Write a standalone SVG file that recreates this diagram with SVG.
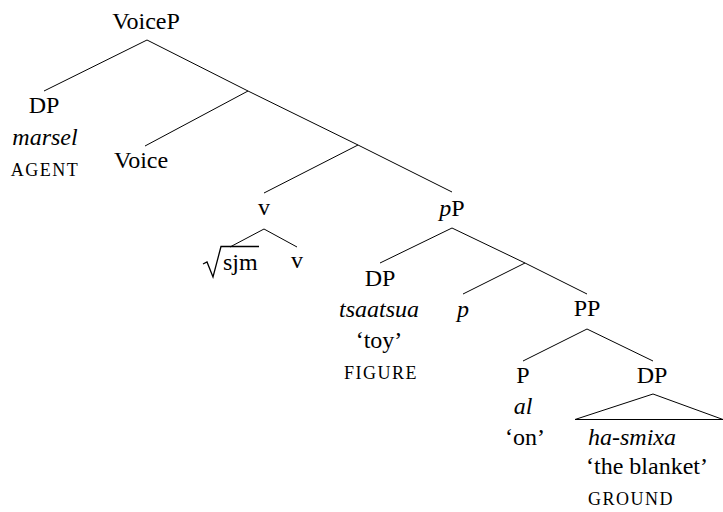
<svg xmlns="http://www.w3.org/2000/svg" width="723" height="512" viewBox="0 0 723 512" font-family="Liberation Serif, serif">
<rect width="723" height="512" fill="#fff"/>
<g id="connectors" stroke="#000" stroke-width="1" fill="none">
<line x1="147" y1="40" x2="44" y2="91"/>
<line x1="147" y1="40" x2="248" y2="91"/>
<line x1="248" y1="91" x2="145" y2="146"/>
<line x1="248" y1="91" x2="358" y2="145"/>
<line x1="358" y1="145" x2="264" y2="193"/>
<line x1="358" y1="145" x2="452" y2="192"/>
<line x1="264" y1="229" x2="230" y2="247"/>
<line x1="264" y1="229" x2="297" y2="247"/>
<line x1="452" y1="228" x2="380" y2="263"/>
<line x1="452" y1="228" x2="525" y2="263"/>
<line x1="525" y1="263" x2="463" y2="294"/>
<line x1="525" y1="263" x2="587" y2="294"/>
<line x1="587" y1="329" x2="523" y2="361"/>
<line x1="587" y1="329" x2="653" y2="361"/>
<polygon points="653,394 575,419.5 723,419.5"/>
</g>
<g id="VoiceP"><text font-family="Liberation Serif, serif" font-size="24" text-anchor="middle" x="146" y="29">VoiceP</text></g>
<g id="DP-agent">
<text font-family="Liberation Serif, serif" font-size="24" text-anchor="middle" x="44" y="113">DP</text>
<text font-family="Liberation Serif, serif" font-size="24" font-style="italic" text-anchor="middle" x="45" y="145">marsel</text>
<text font-family="Liberation Serif, serif" font-size="18" letter-spacing="1.5" text-anchor="middle" x="45" y="176">AGENT</text>
</g>
<g id="Voice"><text font-family="Liberation Serif, serif" font-size="24" text-anchor="middle" x="141" y="168">Voice</text></g>
<g id="v-bar"><text font-family="Liberation Serif, serif" font-size="24" text-anchor="middle" x="264" y="215">v</text></g>
<g id="root-sjm">
<polyline points="203,264 207,262 213,277 221,246.5 259,246.5" stroke="#000" stroke-width="1.3" fill="none"/>
<text font-family="Liberation Serif, serif" font-size="24" x="223" y="270">sjm</text>
</g>
<g id="v-head"><text font-family="Liberation Serif, serif" font-size="24" text-anchor="middle" x="297" y="268">v</text></g>
<g id="pP"><text font-family="Liberation Serif, serif" font-size="24" text-anchor="middle" x="452" y="216"><tspan font-style="italic">p</tspan>P</text></g>
<g id="DP-figure">
<text font-family="Liberation Serif, serif" font-size="24" text-anchor="middle" x="380" y="286">DP</text>
<text font-family="Liberation Serif, serif" font-size="24" font-style="italic" text-anchor="middle" x="379" y="317">tsaatsua</text>
<text font-family="Liberation Serif, serif" font-size="24" text-anchor="middle" x="379" y="348">&#8216;toy&#8217;</text>
<text font-family="Liberation Serif, serif" font-size="18" letter-spacing="1.5" text-anchor="middle" x="381" y="379">FIGURE</text>
</g>
<g id="p-head"><text font-family="Liberation Serif, serif" font-size="24" font-style="italic" text-anchor="middle" x="463" y="317">p</text></g>
<g id="PP"><text font-family="Liberation Serif, serif" font-size="24" text-anchor="middle" x="587" y="316">PP</text></g>
<g id="P">
<text font-family="Liberation Serif, serif" font-size="24" text-anchor="middle" x="523" y="383">P</text>
<text font-family="Liberation Serif, serif" font-size="24" font-style="italic" text-anchor="middle" x="523" y="414">al</text>
<text font-family="Liberation Serif, serif" font-size="24" text-anchor="middle" x="525" y="445">&#8216;on&#8217;</text>
</g>
<g id="DP-ground">
<text font-family="Liberation Serif, serif" font-size="24" text-anchor="middle" x="652" y="383">DP</text>
<text font-family="Liberation Serif, serif" font-size="24" font-style="italic" x="588" y="445">ha-smixa</text>
<text font-family="Liberation Serif, serif" font-size="24" x="586" y="474">&#8216;the blanket&#8217;</text>
<text font-family="Liberation Serif, serif" font-size="18" letter-spacing="1.5" x="588" y="505">GROUND</text>
</g>
</svg>
